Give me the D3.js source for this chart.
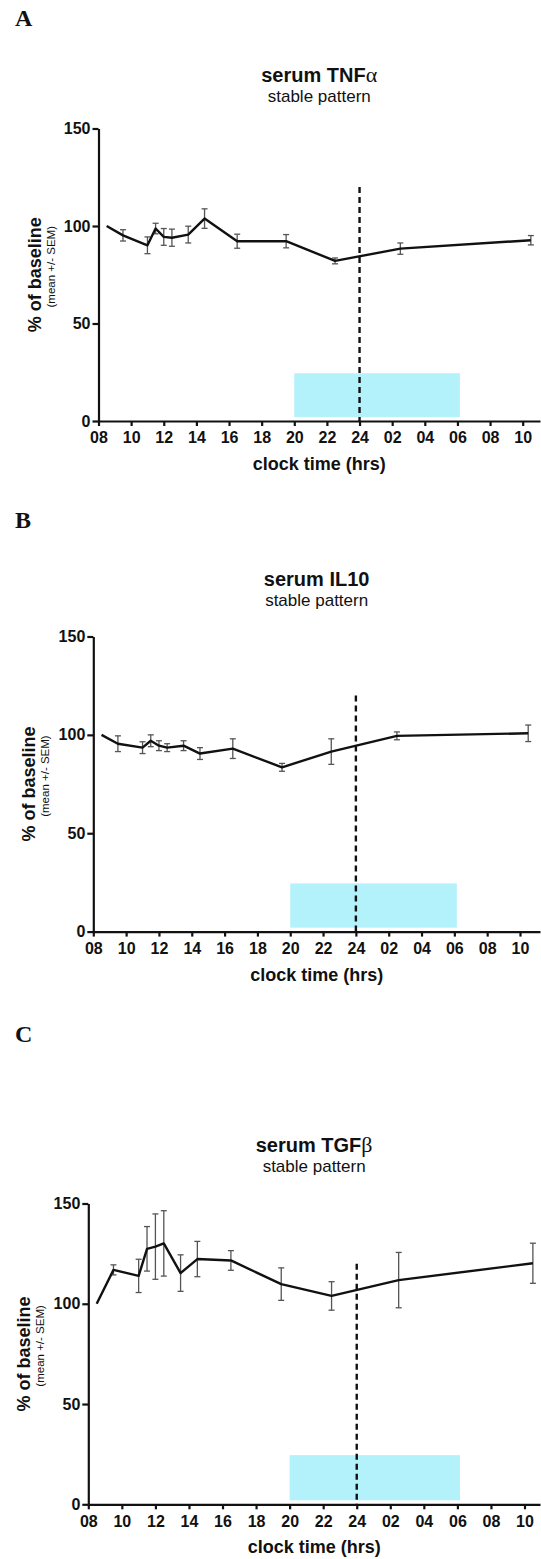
<!DOCTYPE html>
<html>
<head>
<meta charset="utf-8">
<script src="https://d3js.org/d3.v7.min.js"></script>
<style>
  body { margin: 0; background: #ffffff; }
  text { font-family: Arial, "Liberation Sans", sans-serif; fill: #111111; }
  .letter { font-family: "Times New Roman", "Liberation Serif", serif; font-weight: bold; font-size: 24px; }
  .title { font-weight: bold; font-size: 20px; }
  .greek { font-family: "Times New Roman", "Liberation Serif", serif; font-weight: normal; }
  .subtitle { font-size: 17px; }
  .axis-title { font-weight: bold; font-size: 18px; }
  .ylab { font-weight: bold; font-size: 18px; }
  .ysub { font-size: 11.5px; }
  .axis path, .axis line { stroke: #111111; stroke-width: 2.2px; }
  .axis text { font-family: Arial, "Liberation Sans", sans-serif; font-weight: bold; font-size: 16px; fill: #111111; }
</style>
</head>
<body>
<div id="chart"></div>
<script>

    // sampling times (hours from 00:00 of day 1)
    const hours = [8.5, 9.5, 11, 11.5, 12, 12.5, 13.5, 14.5, 16.5, 19.5, 22.5, 26.5, 34.5];

    // % of baseline, mean and SEM
    const meanTNF = [100, 95.2, 90.1, 98.7, 94.4, 94.0, 95.6, 103.8, 92.2, 92.2, 82.1, 88.4, 92.7];
    const semTNF  = [0, 2.9, 4.3, 2.7, 4.3, 4.4, 4.3, 5.0, 3.6, 3.4, 1.5, 2.9, 2.4];

    const meanIL10 = [100, 95.5, 93.5, 97, 94.5, 93.5, 94.5, 90.5, 93, 83.5, 91.5, 99.5, 100.8];
    const semIL10  = [0, 4, 3, 3, 2.5, 2, 2.5, 3, 5, 2, 6.5, 2, 4.2];

    const meanTGF = [100, 116.9, 113.9, 127.4, 128.5, 130.1, 115.3, 122.3, 121.6, 109.8, 103.9, 111.8, 120.2];
    const semTGF  = [0, 2.5, 8.3, 11.1, 16.3, 16.3, 9.1, 8.8, 4.9, 8.1, 7.1, 13.8, 10];

    // axes
    const xTicks = [8, 10, 12, 14, 16, 18, 20, 22, 24, 26, 28, 30, 32, 34];
    const yTicks = [0, 50, 100, 150];

    // sleep period box and midnight marker
    const night = {start: 20, end: 30.15, low: 2, high: 24.5};
    const midnight = {x: 24, top: 120};

    const panels = [
        {letter: "A", name: "serum TNF", greek: "\u03b1", mean: meanTNF, sem: semTNF,
         letterY: 26, titleY: 82, subY: 101.5, left: 98.5, top: 128.5, bottom: 421, x34: 522.7},
        {letter: "B", name: "serum IL10", greek: "", mean: meanIL10, sem: semIL10,
         letterY: 528, titleY: 586, subY: 606, left: 93.3, top: 636.5, bottom: 931.6, x34: 520},
        {letter: "C", name: "serum TGF", greek: "\u03b2", mean: meanTGF, sem: semTGF,
         letterY: 1042, titleY: 1152, subY: 1172, left: 88.3, top: 1203.5, bottom: 1504.3, x34: 524.5}
    ];

    const W = 541, H = 1559, rightEdge = 540;

    const svg = d3.select("#chart")
        .append("svg")
        .attr("width", W)
        .attr("height", H);

    panels.forEach(p => drawPanel(p));

    function drawPanel(p) {
        const g = svg.append("g");

        const pxPerHour = (p.x34 - p.left) / 26;
        const xMax = 8 + (rightEdge - p.left) / pxPerHour;

        const x = d3.scaleLinear().domain([8, xMax]).range([p.left, rightEdge]);
        const y = d3.scaleLinear().domain([0, 150]).range([p.bottom, p.top]);
        const cx = (p.left + rightEdge) / 2;

        // panel letter
        g.append("text")
            .attr("class", "letter")
            .attr("x", 15)
            .attr("y", p.letterY)
            .text(p.letter);

        // title + subtitle
        const t = g.append("text")
            .attr("class", "title")
            .attr("x", cx)
            .attr("y", p.titleY)
            .attr("text-anchor", "middle");
        t.append("tspan").text(p.name);
        if (p.greek) t.append("tspan").attr("class", "greek").style("font-size", "22px").text(p.greek);

        g.append("text")
            .attr("class", "subtitle")
            .attr("x", cx)
            .attr("y", p.subY)
            .attr("text-anchor", "middle")
            .text("stable pattern");

        // night box
        g.append("rect")
            .attr("x", x(night.start))
            .attr("y", y(night.high))
            .attr("width", x(night.end) - x(night.start))
            .attr("height", y(night.low) - y(night.high))
            .attr("fill", "#b3f1fb");

        // midnight dashed line
        g.append("line")
            .attr("x1", x(midnight.x))
            .attr("x2", x(midnight.x))
            .attr("y1", y(midnight.top))
            .attr("y2", y(0))
            .attr("stroke", "#111111")
            .attr("stroke-width", 2.4)
            .attr("stroke-dasharray", "6,4");

        // axes
        g.append("g")
            .attr("class", "axis")
            .attr("transform", `translate(0, ${p.bottom})`)
            .call(d3.axisBottom(x)
                .tickValues(xTicks)
                .tickSize(5)
                .tickSizeOuter(0)
                .tickPadding(6)
                .tickFormat(h => h === 24 ? "24" : String(h % 24).padStart(2, "0")));

        g.append("g")
            .attr("class", "axis")
            .attr("transform", `translate(${p.left}, 0)`)
            .call(d3.axisLeft(y)
                .tickValues(yTicks)
                .tickSize(6)
                .tickSizeOuter(0)
                .tickPadding(2));

        // axis titles
        g.append("text")
            .attr("class", "axis-title")
            .attr("x", cx)
            .attr("y", p.bottom + 49)
            .attr("text-anchor", "middle")
            .text("clock time (hrs)");

        const cy = (p.top + p.bottom) / 2;
        g.append("text")
            .attr("class", "ylab")
            .attr("transform", `translate(${p.left - 58}, ${cy}) rotate(-90)`)
            .attr("text-anchor", "middle")
            .text("% of baseline");
        g.append("text")
            .attr("class", "ysub")
            .attr("transform", `translate(${p.left - 44}, ${cy - 8}) rotate(-90)`)
            .attr("text-anchor", "middle")
            .text("(mean +/- SEM)");

        const data = hours.map((h, i) => ({h: h, m: p.mean[i], s: p.sem[i]}))
        const withErr = data.filter(d => d.s > 0);

        // error bars
        const eb = g.append("g")
            .attr("stroke", "#555555")
            .attr("stroke-width", 1.3);
        eb.selectAll("line.v")
            .data(withErr)
            .join("line")
            .attr("class", "v")
            .attr("x1", d => x(d.h)).attr("x2", d => x(d.h))
            .attr("y1", d => y(d.m - d.s)).attr("y2", d => y(d.m + d.s));
        eb.selectAll("line.capT")
            .data(withErr)
            .join("line")
            .attr("class", "capT")
            .attr("x1", d => x(d.h) - 3).attr("x2", d => x(d.h) + 3)
            .attr("y1", d => y(d.m + d.s)).attr("y2", d => y(d.m + d.s));
        eb.selectAll("line.capB")
            .data(withErr)
            .join("line")
            .attr("class", "capB")
            .attr("x1", d => x(d.h) - 3).attr("x2", d => x(d.h) + 3)
            .attr("y1", d => y(d.m - d.s)).attr("y2", d => y(d.m - d.s));

        // mean line
        g.append("path")
            .datum(data)
            .attr("fill", "none")
            .attr("stroke", "#111111")
            .attr("stroke-width", 2.4)
            .attr("stroke-linejoin", "round")
            .attr("d", d3.line().x(d => x(d.h)).y(d => y(d.m)));
    }

</script>
</body>
</html>
